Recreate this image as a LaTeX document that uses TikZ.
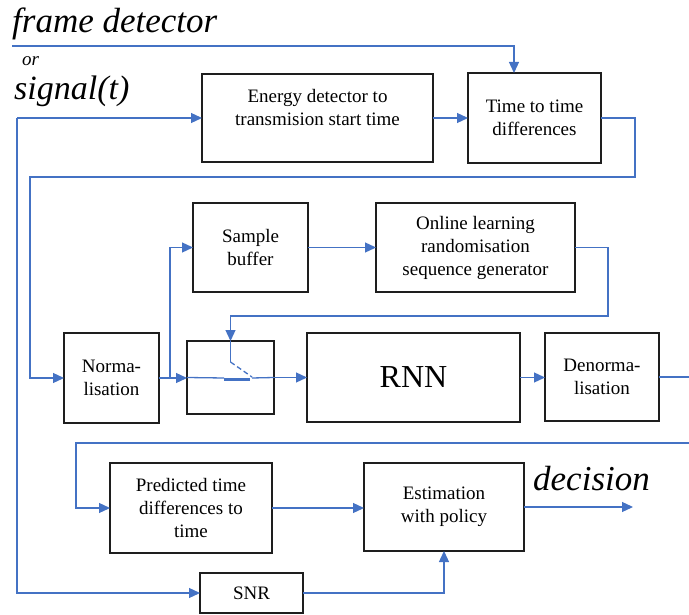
\documentclass[tikz,border=0pt]{standalone}
\usepackage{fontspec}
\setmainfont{Liberation Serif}
\usetikzlibrary{arrows.meta}
\definecolor{lineblue}{RGB}{68,114,196}
\definecolor{boxgray}{RGB}{30,30,30}
\tikzset{
  box/.style={draw=boxgray, line width=2.4pt, anchor=north west, outer sep=0pt,
    inner sep=0pt, align=center, font=\fontsize{19}{23}\selectfont},
  txt/.style={align=center, inner sep=0pt, font=\fontsize{19}{23}\selectfont},
  wire/.style={draw=lineblue, line width=1.3pt},
  conn/.style={wire, -{Triangle[length=11pt,width=10pt]}},
  big/.style={inner sep=0pt, anchor=base west, font=\fontsize{35}{40}\selectfont\itshape}
}
\begin{document}
\begin{tikzpicture}[x=1pt,y=-1pt]
\useasboundingbox (0,0) rectangle (689,615);

% labels
\node[big] (lfd) at (12,33) {frame detector};
\node[inner sep=0pt, anchor=base west, font=\fontsize{19}{22}\selectfont\itshape] (lor) at (22,66) {or};
\node[big, font=\fontsize{34}{40}\selectfont\itshape] (lsig) at (14,100) {signal(t)};
\node[big] (ldec) at (533,490) {decision};

% boxes
\node[box, minimum width=231pt, minimum height=88pt] (ed) at (202,74) {};
\node[txt] (edt) at (317.5,108) {Energy detector to\\transmision start time};
\node[box, minimum width=133pt, minimum height=90pt] (ttd) at (468,73) {Time to time\\differences};
\node[box, minimum width=95pt, minimum height=90pt] (norm) at (64,333) {\raisebox{-8pt}{\parbox{90pt}{\centering Norma-\\lisation}}};
\node[box, minimum width=115pt, minimum height=89pt] (sb) at (193,203) {Sample\\buffer};
\node[box, minimum width=199pt, minimum height=89pt] (ol) at (376,203) {Online learning\\randomisation\\sequence generator};
\node[box, minimum width=87pt, minimum height=73pt] (sw) at (187,341) {};
\node[box, minimum width=213pt, minimum height=89pt, font=\fontsize{32}{36}\selectfont] (rnn) at (307,333) {RNN};
\node[box, minimum width=114pt, minimum height=88pt] (dn) at (545,333) {Denorma-\\lisation};
\node[box, minimum width=162pt, minimum height=90pt] (pt) at (110,463) {Predicted time\\differences to\\time};
\node[box, minimum width=160pt, minimum height=88pt] (est) at (364,463) {Estimation\\with policy};
\node[box, minimum width=103pt, minimum height=40pt] (snr) at (200,573) {SNR};

% free ends / bends
\coordinate (fd) at (12,46);
\coordinate (sig) at (17,118);
\coordinate (r1) at (635,177);
\coordinate (l1) at (30,378);
\coordinate (br) at (170,378);
\coordinate (r2) at (608,316);
\coordinate (e1) at (689,377);
\coordinate (e2) at (689,443);
\coordinate (l2) at (76,508);
\coordinate (dec) at (633,507);

% connectors
\draw[conn] (fd) -| ([xshift=-20.5pt]ttd.north);
\draw[conn] (sig) -- (sig -| ed.west);
\draw[conn] (ed.east) -- (ttd.west);
\draw[conn] (ttd.east) -| (r1) -| (l1) -- (norm.west);
\draw[conn] (norm.east) -- (norm.east -| sw.west);
\draw[conn] (br) |- (sb.west);
\draw[conn] (sb.east) -- (ol.west);
\draw[conn] (ol.east) -| (r2) -| (sw.north);
% switch internals
\draw[wire] (sw.west) -- (224,378);
\draw[wire, line width=2.2pt] (224,379.5) -- (250,379.5);
\draw[wire] (252,378) -- (sw.east);
\draw[wire] (sw.north) -- (230.5,362);
\draw[wire, dashed, dash pattern=on 5pt off 3pt] (230.5,362) -- (252,377);
\draw[conn] (sw.east) -- (sw.east -| rnn.west);
\draw[conn] (rnn.east) -- (rnn.east -| dn.west);
\draw[wire] (dn.east) -- (e1);
\draw[conn] (e2) -| (l2) -- (l2 -| pt.west);
\draw[conn] (pt.east) -- (pt.east -| est.west);
\draw[conn] (est.east) -- (dec);
\draw[conn] (sig) |- (snr.west);
\draw[conn] (snr.east) -| (est.south);
\end{tikzpicture}
\end{document}
